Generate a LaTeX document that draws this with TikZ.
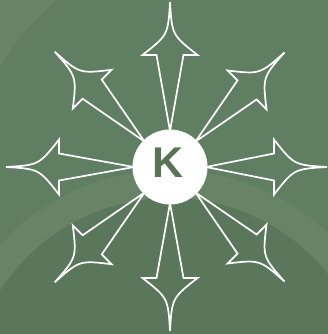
\documentclass[tikz,border=0pt]{standalone}
\usepackage{fontspec}
\setmainfont{Liberation Sans}
\definecolor{bggreen}{RGB}{96,126,98}
\definecolor{bgdark}{RGB}{90,119,92}
\definecolor{bglight}{RGB}{104,132,102}
\definecolor{kgreen}{RGB}{88,116,84}

\begin{document}
\begin{tikzpicture}[x=1pt, y=1pt,
  arrowline/.style={white, line width=1.7pt, line join=miter},
  hubdisc/.style={circle, fill=white, minimum size=75pt, inner sep=0pt},
  hublabel/.style={font=\bfseries\fontsize{43}{43}\selectfont, text=kgreen, inner sep=0pt}]

% ---- background ----
\fill[bggreen] (0,0) rectangle (328,334);
\useasboundingbox (0,0) rectangle (328,334);
\begin{scope}
  \clip (0,0) rectangle (328,334);
  % faint rings behind the star
  \fill[bglight] (170,-66) circle (230);
  \fill[bgdark] (170,-66) circle (202);
  % lighter corner top left
  \fill[bglight] (0,334) -- (0,268) .. controls (22,300) .. (56,334) -- cycle;
\end{scope}

% ---- eight arrows out of the hub ----
% tips at about 160 from the centre (170,167); neck and barbs 53 back from the tip
\foreach \a/\len in {0/157, 45/162, 90/165, 135/163, 180/164, 225/163, 270/164, 315/162} {
  \pgfmathsetmacro{\neck}{\len-53}
  \pgfmathsetmacro{\ctrl}{\len-33}
  \begin{scope}[shift={(170,167)}, rotate=\a]
    \draw[arrowline] (36,0) -- (\neck,13.5) -- (\neck,27.5)
      .. controls (\ctrl,2) .. (\len,0)
      .. controls (\ctrl,-2) .. (\neck,-27.5) -- (\neck,-13.5) -- cycle;
  \end{scope}
}

% ---- hub ----
\node[hubdisc] (hub) at (170,167) {};
\node[hublabel] (hublbl) at (168,171) {K};

\end{tikzpicture}
\end{document}
